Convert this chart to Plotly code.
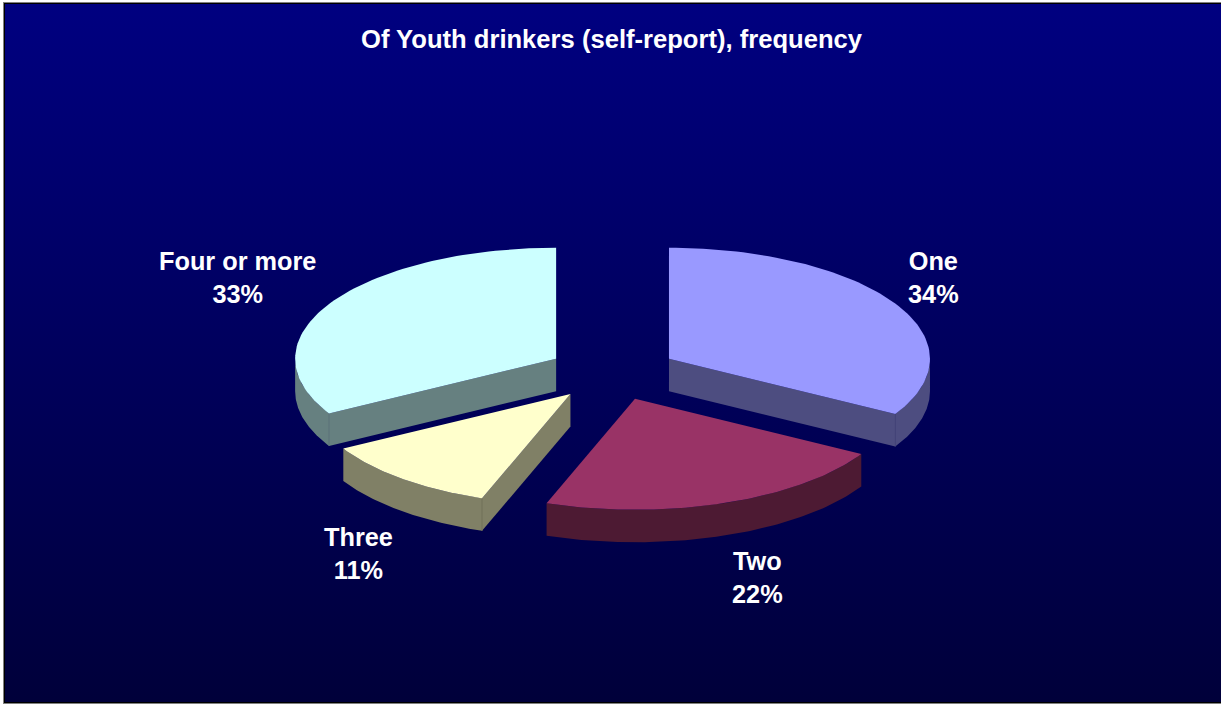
import math
import plotly.graph_objects as go

title = "Of Youth drinkers (self-report), frequency"
categories = ["One", "Two", "Three", "Four or more"]
values = [33.3, 22.2, 11.3, 33.2]
percent_labels = ["34%", "22%", "11%", "33%"]
top_colors = ["#9999FF", "#993366", "#FFFFCC", "#CCFFFF"]
side_colors = ["#4D4D80", "#4D1A33", "#808066", "#668080"]
edge_colors = ["#46467A", "#45172E", "#70705A", "#5A7078"]
label_x = [933, 757.5, 358, 237]
label_y = [277, 577, 553, 277]

W, H = 1221, 706
CX, CY, A, B = 612.5, 372.7, 261.0, 111.0
DEPTH = 32.5
EXPLODE = 0.25
FONT = "Liberation Sans, Arial, sans-serif"


def pt(deg, ox, oy, dy=0.0):
    r = math.radians(deg)
    return ox + A * math.sin(r), oy - B * math.cos(r) + dy


def arc(a0, a1, ox, oy, dy=0.0, n=80):
    return [pt(a0 + (a1 - a0) * i / n, ox, oy, dy) for i in range(n + 1)]


def poly(points, color):
    xs = [p[0] for p in points] + [points[0][0]]
    ys = [p[1] for p in points] + [points[0][1]]
    return go.Scatter(x=xs, y=ys, mode="lines", fill="toself", fillcolor=color,
                      line=dict(color=color, width=0), hoverinfo="skip",
                      showlegend=False)


fig = go.Figure()

# Background gradient
fig.add_trace(go.Scatter(
    x=[5, W, W, 5, 5], y=[4, 4, 702, 702, 4], mode="lines", line=dict(width=0),
    fill="toself", hoverinfo="skip", showlegend=False,
    fillgradient=dict(type="vertical", start=4, stop=702,
                      colorscale=[[0, "#000080"], [1, "#00003A"]])))

total = sum(values)
angle = 0.0
slices = []
for v in values:
    sweep = 360.0 * v / total
    mid = angle + sweep / 2
    r = math.radians(mid)
    ox = CX + EXPLODE * A * math.sin(r)
    oy = CY - EXPLODE * B * math.cos(r)
    slices.append((angle, angle + sweep, ox, oy))
    angle += sweep

for i, (a0, a1, ox, oy) in enumerate(slices):
    side, top = side_colors[i], top_colors[i]
    mid = (a0 + a1) / 2
    M = pt(mid, ox, oy)
    # outer wall: the part of the rim facing the viewer
    lo, hi = max(a0, 90.0), min(a1, 270.0)
    if hi > lo:
        fig.add_trace(poly(arc(lo, hi, ox, oy) + arc(hi, lo, ox, oy, DEPTH), side))
    # cut faces visible from above
    for a in (a0, a1):
        Q = pt(a, ox, oy)
        dx, dy = Q[0] - ox, Q[1] - oy
        if dx * (M[1] - oy) - dy * (M[0] - ox) < 0 < dx or \
           dx < 0 < dx * (M[1] - oy) - dy * (M[0] - ox):
            fig.add_trace(poly([(ox, oy), Q, (Q[0], Q[1] + DEPTH), (ox, oy + DEPTH)], side))
            fig.add_trace(go.Scatter(x=[Q[0], Q[0]], y=[Q[1], Q[1] + DEPTH], mode="lines",
                                     line=dict(color=edge_colors[i], width=1),
                                     hoverinfo="skip", showlegend=False))
    # top surface
    fig.add_trace(poly([(ox, oy)] + arc(a0, a1, ox, oy), top))

annotations = [dict(text=f"<b>{title}</b>", x=612, y=39, xref="x", yref="y", showarrow=False,
                    font=dict(family=FONT, size=25.6, color="white"))]
for c, p, x, y in zip(categories, percent_labels, label_x, label_y):
    annotations.append(dict(text=f"<b>{c}<br>{p}</b>", x=x, y=y, xref="x", yref="y",
                            showarrow=False, align="center",
                            font=dict(family=FONT, size=25.3, color="white")))

fig.update_layout(
    width=W, height=H, margin=dict(l=0, r=0, t=0, b=0), autosize=False,
    paper_bgcolor="white", plot_bgcolor="rgba(0,0,0,0)", showlegend=False,
    xaxis=dict(range=[0, W], visible=False, fixedrange=True),
    yaxis=dict(range=[H, 0], visible=False, fixedrange=True),
    annotations=annotations,
    shapes=[
        dict(type="rect", x0=3, x1=W + 2, y0=2, y1=704, layer="below",
             fillcolor="#808080", line=dict(width=0)),
        dict(type="rect", x0=4, x1=W + 2, y0=3, y1=703, layer="below",
             fillcolor="#000000", line=dict(width=0)),
    ],
)

fig.write_html("out.html", config=dict(displayModeBar=False),
               post_script="document.body.style.margin='0';document.body.style.overflow='hidden';")
